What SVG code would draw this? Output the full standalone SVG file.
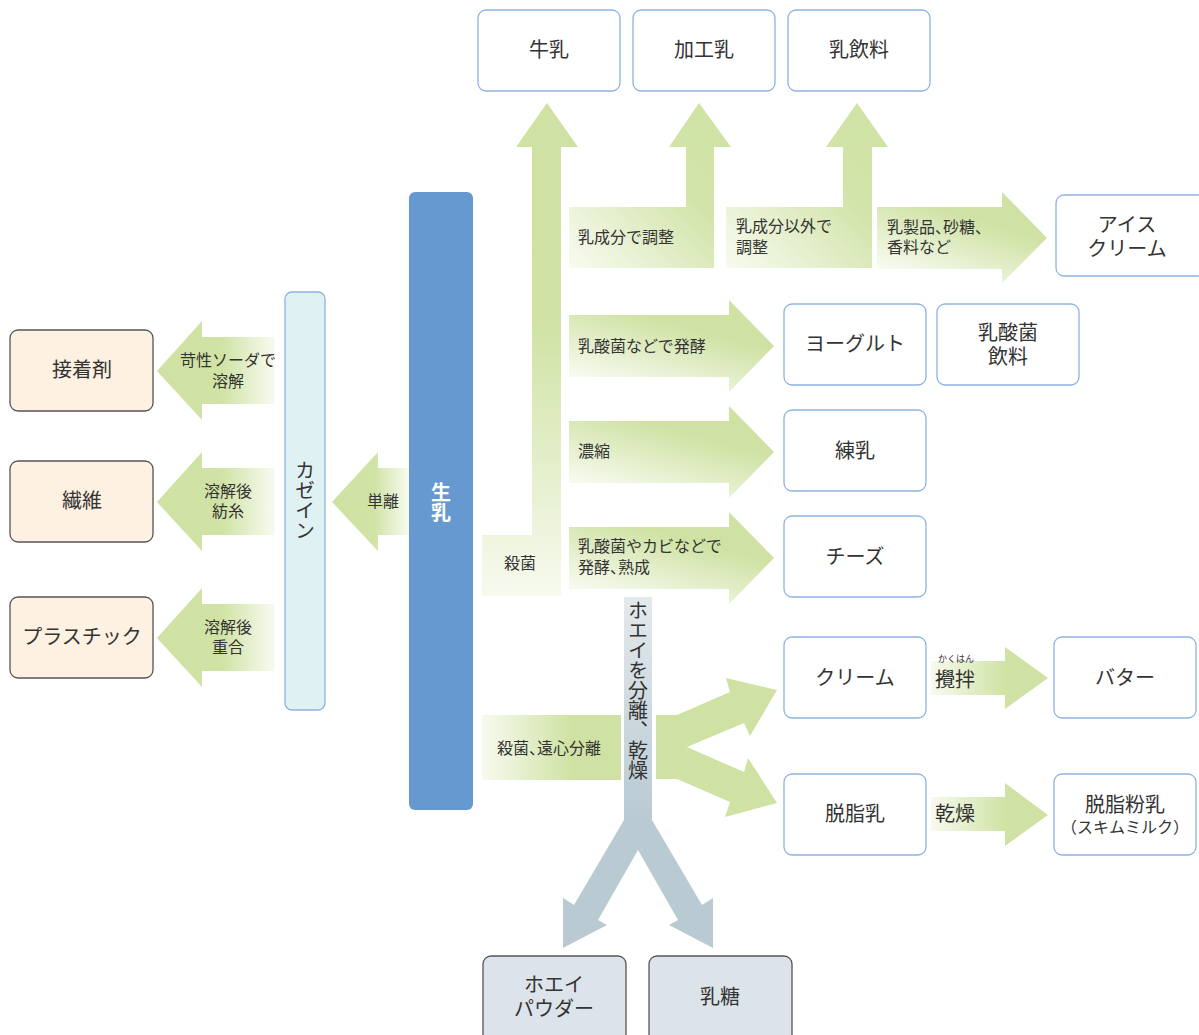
<svg xmlns="http://www.w3.org/2000/svg" width="1199" height="1035" viewBox="0 0 1199 1035">
<style>
text{font-family:"Noto Sans CJK JP","Noto Sans",sans-serif;fill:#333333;}
.nb{fill:#ffffff;stroke:#8db3e2;stroke-width:1.3;}
.nl{fill:#fdf1e2;stroke:#555555;stroke-width:1.3;}
.ng{fill:#dce3ea;stroke:#555555;stroke-width:1.3;}
.t20{font-size:20px;text-anchor:middle;}
.t16{font-size:16px;}
.c{text-anchor:middle;}
.p{font-feature-settings:"halt";}
.vert{writing-mode:vertical-rl;text-anchor:middle;}
</style>
<defs>
<linearGradient id="gUp" x1="0" y1="0" x2="0" y2="1">
<stop offset="0" stop-color="#cfe2a3"/><stop offset="0.45" stop-color="#d0e3a5"/><stop offset="1" stop-color="#f7faef"/>
</linearGradient>
<linearGradient id="gL" x1="1" y1="0" x2="0" y2="1">
<stop offset="0" stop-color="#cfe2a3"/><stop offset="0.4" stop-color="#d2e4a9"/><stop offset="1" stop-color="#f8fbf1"/>
</linearGradient>
<linearGradient id="gR" x1="0.05" y1="1" x2="0.65" y2="0">
<stop offset="0" stop-color="#ffffff"/><stop offset="0.75" stop-color="#cfe2a3"/>
</linearGradient>
<linearGradient id="gLeft" x1="0" y1="0" x2="1" y2="0">
<stop offset="0" stop-color="#cfe2a3"/><stop offset="0.55" stop-color="#d0e3a5"/><stop offset="1" stop-color="#f8fbf1"/>
</linearGradient>
<linearGradient id="gRight" x1="0" y1="0" x2="1" y2="0">
<stop offset="0" stop-color="#f7faef"/><stop offset="0.65" stop-color="#cfe2a3"/>
</linearGradient>
<linearGradient id="gWhey" x1="0" y1="0" x2="0" y2="1">
<stop offset="0" stop-color="#e4e9ec"/><stop offset="1" stop-color="#b9cad3"/>
</linearGradient>
</defs>

<g id="connectors">
<polygon fill="url(#gUp)" points="547,103 578,147 561,147 561,596 482,596 482,535 532,535 532,147 516,147"/>
<polygon fill="url(#gL)" points="699,103 731,147 714,147 714,268 569,268 569,207 686,207 686,147 669,147"/>
<polygon fill="url(#gL)" points="857,103 888,147 872,147 872,268 726,268 726,207 843,207 843,147 826,147"/>
<polygon fill="url(#gR)" points="877,207 1002,207 1002,192 1047,238 1002,283 1002,269 877,269"/>
<polygon fill="url(#gR)" points="569,315 729,315 729,300 774,346 729,392 729,377 569,377"/>
<polygon fill="url(#gR)" points="569,421 729,421 729,406 774,452 729,498 729,483 569,483"/>
<polygon fill="url(#gR)" points="569,527 729,527 729,512 774,558 729,604 729,589 569,589"/>
<polygon fill="url(#gLeft)" points="157,371 202,321 202,337 275,337 275,404 202,404 202,420"/>
<polygon fill="url(#gLeft)" points="157,502 202,452 202,468 275,468 275,535 202,535 202,551"/>
<polygon fill="url(#gLeft)" points="157,638 202,588 202,604 275,604 275,671 202,671 202,687"/>
<polygon fill="url(#gLeft)" points="332,502 378,452 378,468 409,468 409,535 378,535 378,551"/>
<rect x="482" y="715" width="139" height="65" fill="url(#gRight)"/>
<polygon fill="#cfe2a3" points="656,715 677,715 730,692 726,678 777,690 750,736 744,723 687,747 744,772 748,758 777,803 725,817 730,802 677,779 656,779"/>
<rect x="624" y="597" width="28" height="224" fill="url(#gWhey)"/>
<polygon fill="#b9cad3" points="624,820 574,905 563,898 563,948 607,925 598,920 638,850 678,920 669,925 713,948 713,898 702,905 652,820"/>
<polygon fill="url(#gRight)" points="931,661 1005,661 1005,647 1048,678 1005,709 1005,695 931,695"/>
<polygon fill="url(#gRight)" points="931,797 1005,797 1005,783 1048,815 1005,846 1005,831 931,831"/>
<text class="t16" x="578" y="243">乳成分で調整</text>
<text class="t16" x="736" y="232">乳成分以外で<tspan x="736" dy="21">調整</tspan></text>
<text class="t16 p" x="887" y="233">乳製品、砂糖、<tspan x="887" dy="20">香料など</tspan></text>
<text class="t16" x="578" y="352">乳酸菌などで発酵</text>
<text class="t16" x="578" y="457">濃縮</text>
<text class="t16 p" x="578" y="552">乳酸菌やカビなどで<tspan x="578" dy="21">発酵、熟成</tspan></text>
<text class="t16 c" x="520" y="569">殺菌</text>
<text class="t16 c p" x="549" y="754">殺菌、遠心分離</text>
<text class="t16 c" x="228" y="366">苛性ソーダで<tspan x="228" dy="21">溶解</tspan></text>
<text class="t16 c" x="228" y="497">溶解後<tspan x="228" dy="20">紡糸</tspan></text>
<text class="t16 c" x="228" y="633">溶解後<tspan x="228" dy="20">重合</tspan></text>
<text class="t16 c" x="383" y="507">単離</text>
<text x="935" y="687" style="font-size:20px;"><tspan x="956" y="662" style="font-size:9px;text-anchor:middle;">かくはん</tspan><tspan x="935" y="687">攪拌</tspan></text>
<text x="935" y="821" style="font-size:20px;">乾燥</text>
<text class="vert" x="638" y="690" style="font-size:20px;">ホエイを分離、乾燥</text>
</g>

<g id="n-rawmilk"><rect x="409" y="192" width="64" height="618" rx="6" fill="#6699cf"/><text class="vert" x="441" y="502" style="font-size:20px;font-weight:bold;fill:#ffffff;">生乳</text></g>
<g id="n-casein"><rect x="285" y="292" width="40" height="418" rx="7" fill="#dff1f3" stroke="#8db3e2" stroke-width="1.3"/><text class="vert" x="305" y="500" style="font-size:20px;">カゼイン</text></g>

<g id="n-gyunyu"><rect class="nb" x="478" y="10" width="142" height="81" rx="8"/><text class="t20" x="549" y="57">牛乳</text></g>
<g id="n-kakonyu"><rect class="nb" x="633" y="10" width="142" height="81" rx="8"/><text class="t20" x="704" y="57">加工乳</text></g>
<g id="n-nyuinryo"><rect class="nb" x="788" y="10" width="142" height="81" rx="8"/><text class="t20" x="859" y="57">乳飲料</text></g>
<g id="n-ice"><rect class="nb" x="1056" y="195" width="150" height="81" rx="8"/><text class="t20" x="1127" y="232">アイス<tspan x="1127" dy="24">クリーム</tspan></text></g>
<g id="n-yogurt"><rect class="nb" x="784" y="304" width="142" height="81" rx="8"/><text class="t20" x="855" y="351">ヨーグルト</text></g>
<g id="n-lactic"><rect class="nb" x="937" y="304" width="142" height="81" rx="8"/><text class="t20" x="1008" y="340">乳酸菌<tspan x="1008" dy="24">飲料</tspan></text></g>
<g id="n-rennyu"><rect class="nb" x="784" y="410" width="142" height="81" rx="8"/><text class="t20" x="855" y="458">練乳</text></g>
<g id="n-cheese"><rect class="nb" x="784" y="516" width="142" height="81" rx="8"/><text class="t20" x="855" y="564">チーズ</text></g>
<g id="n-cream"><rect class="nb" x="784" y="637" width="142" height="81" rx="8"/><text class="t20" x="855" y="685">クリーム</text></g>
<g id="n-butter"><rect class="nb" x="1054" y="637" width="142" height="81" rx="8"/><text class="t20" x="1125" y="685">バター</text></g>
<g id="n-skim"><rect class="nb" x="784" y="774" width="142" height="81" rx="8"/><text class="t20" x="855" y="821">脱脂乳</text></g>
<g id="n-skimpowder"><rect class="nb" x="1054" y="774" width="142" height="81" rx="8"/><text class="t20" x="1125" y="812">脱脂粉乳<tspan x="1125" dy="21" style="font-size:16px;">（スキムミルク）</tspan></text></g>
<g id="n-adhesive"><rect class="nl" x="10" y="330" width="143" height="81" rx="8"/><text class="t20" x="82" y="377">接着剤</text></g>
<g id="n-fiber"><rect class="nl" x="10" y="461" width="143" height="81" rx="8"/><text class="t20" x="82" y="508">繊維</text></g>
<g id="n-plastic"><rect class="nl" x="10" y="597" width="143" height="81" rx="8"/><text class="t20" x="82" y="644">プラスチック</text></g>
<g id="n-wheypowder"><rect class="ng" x="483" y="956" width="143" height="90" rx="8"/><text class="t20" x="554" y="992">ホエイ<tspan x="554" dy="24">パウダー</tspan></text></g>
<g id="n-lactose"><rect class="ng" x="649" y="956" width="143" height="90" rx="8"/><text class="t20" x="720" y="1004">乳糖</text></g>
</svg>
